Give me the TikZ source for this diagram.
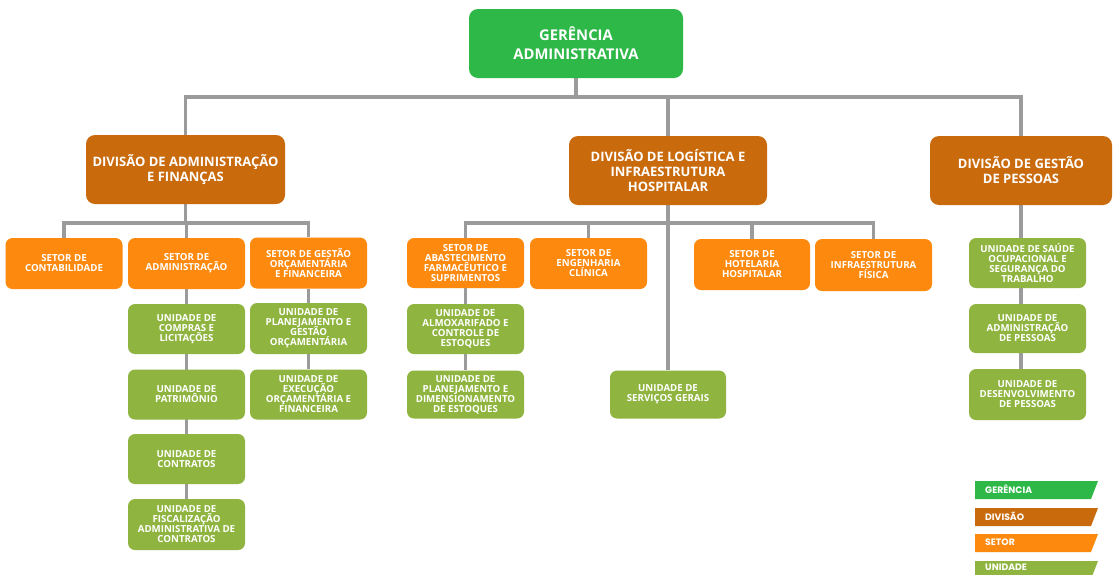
\documentclass[tikz,border=0pt]{standalone}
\usepackage{fontspec}
\setmainfont{Open Sans}
\newfontfamily\legfont{Poppins}
\usetikzlibrary{backgrounds}
\definecolor{cger}{RGB}{46,184,72}
\definecolor{cdiv}{RGB}{201,106,12}
\definecolor{cset}{RGB}{253,138,14}
\definecolor{cuni}{RGB}{143,181,64}
\definecolor{cline}{RGB}{155,155,155}
\begin{document}
\setlength{\lineskiplimit}{-20pt}
\setlength{\lineskip}{0pt}
\begin{tikzpicture}[x=1pt,y=-1pt,
  box/.style={text=white, align=center, inner sep=0pt},
  gerbox/.style={box, fill=cger, rounded corners=9pt, minimum width=214pt, minimum height=69pt, font=\fontsize{14.8}{19}\selectfont\bfseries},
  divbox/.style={box, fill=cdiv, rounded corners=9pt, minimum height=69pt, font=\fontsize{13}{15}\selectfont\bfseries},
  setbox/.style={box, fill=cset, rounded corners=7pt, minimum width=117pt, minimum height=51pt, font=\fontsize{9.7}{10}\selectfont\bfseries},
  unibox/.style={box, fill=cuni, rounded corners=7pt, minimum width=117pt, minimum height=50pt, font=\fontsize{9.7}{10}\selectfont\bfseries},
  conn/.style={draw=cline, line width=3.5pt},
  legtext/.style={anchor=west, text=white, inner sep=0pt, font=\legfont\bfseries\fontsize{9.3}{10}\selectfont}
]
\useasboundingbox (0,0) rectangle (1113,574);

% top
\node[gerbox] (ger) at (576,43.5) {GERÊNCIA\\ADMINISTRATIVA};

% divisions
\node[divbox, minimum width=199pt] (d1) at (185.5,169.5) {DIVISÃO DE ADMINISTRAÇÃO\\E FINANÇAS};
\node[divbox, minimum width=198pt] (d2) at (668,170.5) {DIVISÃO DE LOGÍSTICA E\\INFRAESTRUTURA\\HOSPITALAR};
\node[divbox, minimum width=182pt] (d3) at (1021,170.5) {DIVISÃO DE GESTÃO\\DE PESSOAS};

% left sectors
\node[setbox] (s1) at (64,263.5) {SETOR DE\\CONTABILIDADE};
\node[setbox] (s2) at (186.5,263.5) {SETOR DE\\ADMINISTRAÇÃO};
\node[setbox] (s3) at (308.5,263) {SETOR DE GESTÃO\\ORÇAMENTÁRIA\\E FINANCEIRA};

\node[unibox] (u1) at (186.5,329) {UNIDADE DE\\COMPRAS E\\LICITAÇÕES};
\node[unibox] (u2) at (186.5,394.5) {UNIDADE DE\\PATRIMÔNIO};
\node[unibox] (u3) at (186.5,459) {UNIDADE DE\\CONTRATOS};
\node[unibox, minimum height=51pt] (u4) at (186.5,524.5) {UNIDADE DE\\FISCALIZAÇÃO\\ADMINISTRATIVA DE\\CONTRATOS};
\node[unibox, minimum height=51pt] (u5) at (308.5,328.5) {UNIDADE DE\\PLANEJAMENTO E\\GESTÃO\\ORÇAMENTÁRIA};
\node[unibox] (u6) at (308.5,394.5) {UNIDADE DE\\EXECUÇÃO\\ORÇAMENTÁRIA E\\FINANCEIRA};

% middle sectors
\node[setbox, minimum height=50pt] (s4) at (465.5,263) {SETOR DE\\ABASTECIMENTO\\FARMACÊUTICO E\\SUPRIMENTOS};
\node[setbox] (s5) at (588.5,263.5) {SETOR DE\\ENGENHARIA\\CLÍNICA};
\node[setbox, minimum width=116pt] (s6) at (752,264.5) {SETOR DE\\HOTELARIA\\HOSPITALAR};
\node[setbox, minimum height=52pt] (s7) at (873.5,265) {SETOR DE\\INFRAESTRUTURA\\FÍSICA};

\node[unibox] (u7) at (465.5,329) {UNIDADE DE\\ALMOXARIFADO E\\CONTROLE DE\\ESTOQUES};
\node[unibox, minimum height=48pt] (u8) at (465.5,394.5) {UNIDADE DE\\PLANEJAMENTO E\\DIMENSIONAMENTO\\DE ESTOQUES};
\node[unibox, minimum width=116pt, minimum height=48pt] (u9) at (668,394.5) {UNIDADE DE\\SERVIÇOS GERAIS};

% right units
\node[unibox] (u10) at (1027.5,263) {UNIDADE DE SAÚDE\\OCUPACIONAL E\\SEGURANÇA DO\\TRABALHO};
\node[unibox, minimum height=49pt] (u11) at (1027.5,328.5) {UNIDADE DE\\ADMINISTRAÇÃO\\DE PESSOAS};
\node[unibox, minimum height=51pt] (u12) at (1027.5,394.5) {UNIDADE DE\\DESENVOLVIMENTO\\DE PESSOAS};

\coordinate (bA) at (0,97);
\coordinate (bB) at (0,223);

\begin{scope}[on background layer]
\fill[white] (0,0) rectangle (1113,574);
\draw[conn] (ger.south) -- (ger.south |- bA);
\draw[conn] (d1.north) |- (d3.north |- bA) -- (d3.north);
\draw[conn] (d2.north) -- (d2.north |- bA);
\draw[conn] (d1.south) -- (d1.south |- bB);
\draw[conn] (s1.north) |- (s3.north |- bB) -- (s3.north);
\draw[conn] (s2.north) -- (s2.north |- bB);
\draw[conn] (s2.south) -- (u4.north);
\draw[conn] (s3.south) -- (u6.north);
\draw[conn] (s4.north) |- (s7.north |- bB) -- (s7.north);
\draw[conn] (s5.north) -- (s5.north |- bB);
\draw[conn] (s6.north) -- (s6.north |- bB);
\draw[conn] (d2.south) -- (u9.north);
\draw[conn] (s4.south) -- (u8.north);
\draw[conn] (d3.south) -- (d3.south |- u12.north);
\end{scope}

% legend
\fill[cger] (975,481) -- (1098,481) -- (1091,499) -- (975,499) -- cycle;
\node[legtext] (lg1) at (985,489.5) {GERÊNCIA};
\fill[cdiv] (975,508) -- (1098,508) -- (1091,526) -- (975,526) -- cycle;
\node[legtext] (lg2) at (985,516.5) {DIVISÃO};
\fill[cset] (975,534) -- (1098,534) -- (1091,552) -- (975,552) -- cycle;
\node[legtext] (lg3) at (985,542.5) {SETOR};
\fill[cuni] (975,561) -- (1098,561) -- (1091,579) -- (975,579) -- cycle;
\node[legtext] (lg4) at (985,567) {UNIDADE};
\end{tikzpicture}
\end{document}
